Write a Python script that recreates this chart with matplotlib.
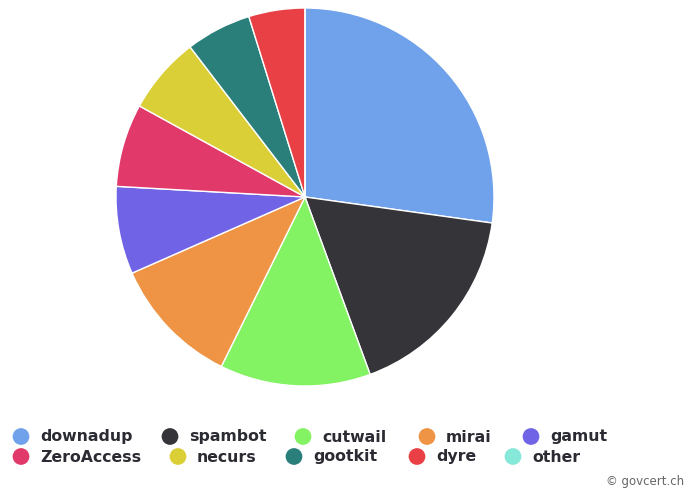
import matplotlib
matplotlib.use('Agg')
import matplotlib.pyplot as plt

labels = ['downadup', 'spambot', 'cutwail', 'mirai', 'gamut',
          'ZeroAccess', 'necurs', 'gootkit', 'dyre', 'other']
shares = [27.2, 17.2, 12.9, 11.1, 7.5, 7.1, 6.6, 5.6, 4.8, 0.0]
colors = ['#6fa2ea', '#353439', '#83f263', '#ef9444', '#7163e6',
          '#e2396b', '#dbcf38', '#2a7f7a', '#e84045', '#85e8d8']

W, H = 685, 491
fig = plt.figure(figsize=(W / 100, H / 100), dpi=100)

# pie: centre (305, 197) px, radius 189 px
cx, cy, r = 305, 197, 189
ax = fig.add_axes([(cx - r) / W, (H - cy - r) / H, 2 * r / W, 2 * r / H])
ax.pie(shares, colors=colors, startangle=90, counterclock=False,
       wedgeprops=dict(edgecolor='white', linewidth=1))
ax.set_xlim(-1, 1)
ax.set_ylim(-1, 1)
ax.set_aspect('equal')
ax.axis('off')

# legend drawn in pixel coordinates
lg = fig.add_axes([0, 0, 1, 1])
lg.set_xlim(0, W)
lg.set_ylim(H, 0)
lg.axis('off')
marker_x = [21, 170, 303, 427, 531, 21, 178, 294, 417, 513]
row_y = [436.5] * 5 + [456.5] * 5
for name, col, x, y in zip(labels, colors, marker_x, row_y):
    lg.scatter([x], [y], s=145, color=col, edgecolors='none')
    lg.text(x + 19, y + 0.5, name, fontsize=11.3, fontweight='bold',
            color='#2b2b33', va='center', ha='left')

lg.text(684, 482, '\u00a9 govcert.ch', fontsize=8.5, color='#666666',
        va='center', ha='right')

fig.savefig('out.png', dpi=100)
